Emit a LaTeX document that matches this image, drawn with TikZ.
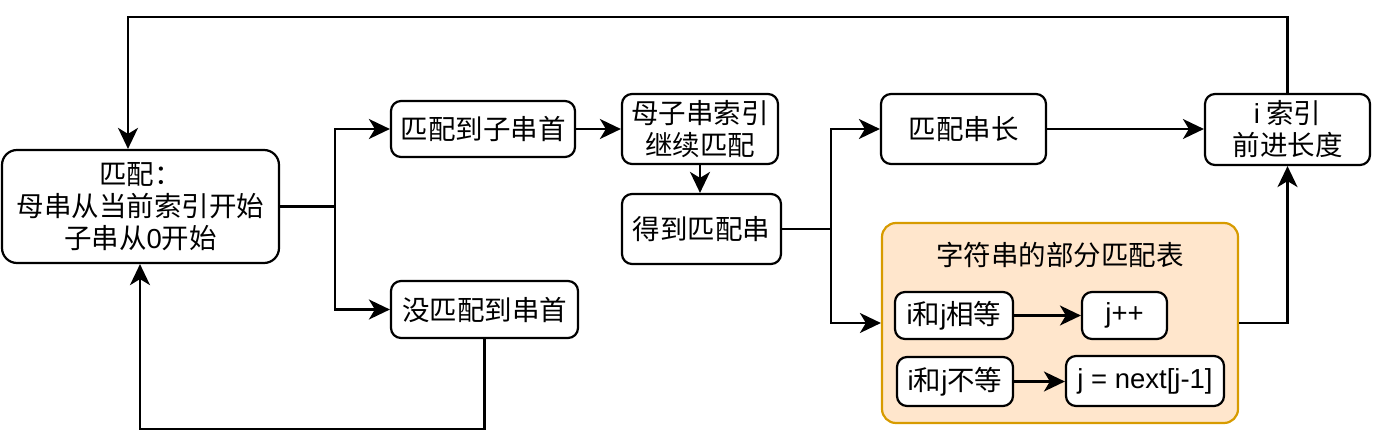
\documentclass[tikz,border=0pt]{standalone}
\usepackage{fontspec}
\setmainfont{Noto Sans CJK SC}
\newfontfamily\lat{Liberation Sans}
\usetikzlibrary{arrows.meta}
\definecolor{grpfill}{HTML}{FFE6CC}
\definecolor{grpline}{HTML}{D79B00}
\begin{document}
\begin{tikzpicture}[x=1pt,y=-1pt,
  font=\fontsize{27.5}{32}\selectfont,
  box/.style={draw=black,line width=2.2pt,fill=white,rounded corners=10pt,inner sep=0pt,align=center,minimum width=#1},
  arr/.style={line width=2.2pt,-{Stealth[length=21pt,width=20pt,inset=6pt]}},
  ln/.style={line width=2.2pt}]
\useasboundingbox (0,0) rectangle (1388,433);
% group
\node[draw=grpline,fill=grpfill,line width=2.2pt,rounded corners=14pt,minimum width=356pt,minimum height=200pt,inner sep=0pt] (grp) at (1060,323) {};
\node (title) at (1060,255) {字符串的部分匹配表};
% nodes
\node[box=277pt,minimum height=113pt,rounded corners=15pt] (main) at (140.5,206.5) {匹配：\\母串从当前索引开始\\子串从{\lat 0}开始};
\node[box=184pt,minimum height=56pt] (m1) at (483,129) {匹配到子串首};
\node[box=187pt,minimum height=57pt] (m2) at (484.5,309.5) {没匹配到串首};
\node[box=156pt,minimum height=70pt] (idx) at (700,129) {母子串索引\\继续匹配};
\node[box=159pt,minimum height=70pt] (got) at (701.5,229) {得到匹配串};
\node[box=165pt,minimum height=70pt] (len) at (963.5,129) {匹配串长};
\node[box=165pt,minimum height=71pt] (adv) at (1287.5,129.5) {{\lat i} 索引\\前进长度};
\node[box=118pt,minimum height=47pt] (eq) at (954,315.5) {{\lat i}和{\lat j}相等};
\node[box=85pt,minimum height=47pt] (jpp) at (1124.5,315.5) {\lat j++};
\node[box=116pt,minimum height=49pt] (ne) at (955,381.5) {{\lat i}和{\lat j}不等};
\node[box=158pt,minimum height=50pt] (nxt) at (1145,381) {\lat j = next[j-1]};
% junction coordinates
\coordinate (j1) at (335,206.5);
\coordinate (j2) at (831,229);
\coordinate (tl) at (128,17);
\coordinate (bl) at (140,429);
% connectors
\draw[ln] (main.east) -- (j1);
\draw[arr] (j1) |- (m1.west);
\draw[arr] (j1) |- (m2.west);
\draw[arr] (m1.east) -- (m1.east -| idx.west);
\draw[arr] (idx.south) -- (idx.south |- got.north);
\draw[ln] (got.east) -- (j2);
\draw[arr] (j2) |- (len.west);
\draw[arr] (j2) |- (grp.west);
\draw[arr] (len.east) -- (len.east -| adv.west);
\draw[arr] (grp.east) -| (adv.south);
\draw[arr] (adv.north) |- (tl) -- (tl |- main.north);
\draw[arr] (m2.south) |- (bl) -- (bl |- main.south);
\draw[arr] (eq.east) -- (eq.east -| jpp.west);
\draw[arr] (ne.east) -- (ne.east -| nxt.west);
\end{tikzpicture}
\end{document}
